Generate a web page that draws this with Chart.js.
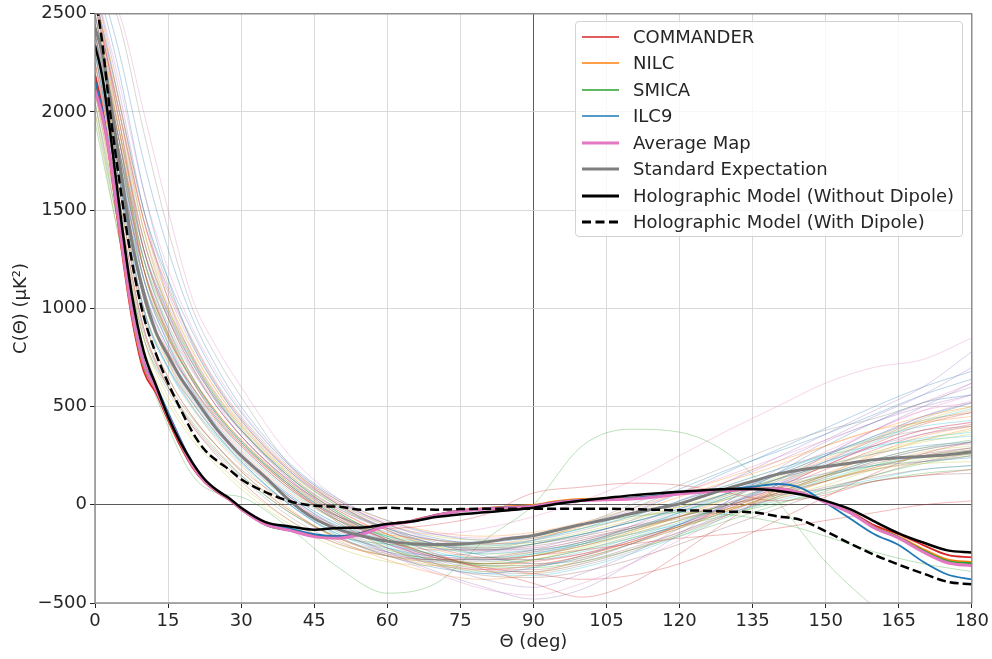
<!DOCTYPE html>
<html>
<head>
<title>Angular correlation</title>
<script src="https://cdn.jsdelivr.net/npm/chart.js"></script>
<style>
  body { margin: 0; background: #fff; }
  #wrap { position: relative; width: 992px; height: 659px; }
  #legend {
    position: absolute; left: 575px; top: 21px; width: 388px; height: 216px;
    box-sizing: border-box; border: 1px solid #d3d3d3; border-radius: 4px;
    background: rgba(255,255,255,0.8);
    font-family: 'DejaVu Sans'; font-size: 18px; color: #262626;
  }
  .row { position: absolute; left: 0; height: 26px; width: 100%; }
  .row svg { position: absolute; left: 5px; top: 0; }
  .row span { position: absolute; left: 57px; top: 0; line-height: 26px; white-space: nowrap; }
</style>
</head>
<body>
<div id="wrap">
  <canvas id="chart" width="992" height="659"></canvas>
  <div id="legend"></div>
</div>

<script type="text/javascript">
// theta grid for the map / model curves (deg)
const theta = [0,1.5,3,5,7.5,10,12.5,15,17.5,20,22.5,25,27.5,30,35,40,45,50,55,60,65,70,75,80,85,90,95,100,105,110,115,120,125,130,135,140,145,150,155,160,165,170,175,180];

const commander = [2190,2020,1760,1380,960,680,570,430,300,190,115,65,25,-25,
  -100,-125,-155,-160,-140,-100,-80,-50,-28,-18,-10,-5,15,25,30,35,42,58,68,75,82,80,58,15,-35,-105,-150,-205,-255,-268];
const nilc = [2140,2000,1770,1400,980,700,585,440,310,195,118,68,28,-22,
  -98,-128,-160,-165,-145,-102,-82,-52,-30,-18,-8,0,20,30,32,36,44,58,68,76,84,84,62,14,-38,-112,-162,-225,-278,-292];
const smica = [2120,1990,1775,1410,990,705,590,445,315,198,120,70,30,-20,
  -102,-132,-160,-166,-146,-104,-84,-54,-31,-20,-12,-6,14,24,28,33,42,56,66,74,82,84,62,14,-38,-114,-165,-232,-285,-298];
const ilc9 = [2160,2010,1790,1430,1010,730,610,470,335,210,125,72,30,-22,
  -92,-120,-150,-160,-142,-100,-82,-52,-30,-20,-12,-5,15,25,30,35,45,60,70,80,92,106,85,10,-70,-150,-205,-290,-355,-380];
const averageMap = [2110,1980,1780,1420,1000,720,590,450,320,200,120,70,30,-20,
  -100,-130,-162,-170,-148,-105,-85,-55,-32,-22,-15,-8,12,22,26,30,40,55,65,72,80,82,60,12,-40,-118,-170,-240,-295,-310];
const standardExp = [2430,2300,2080,1750,1350,1080,880,760,650,560,470,385,315,250,
  140,20,-70,-125,-160,-185,-198,-202,-200,-190,-172,-157,-128,-100,-75,-46,-20,5,45,85,120,155,178,195,212,230,240,246,255,270];
const holoNoDipole = [2340,2180,1920,1520,1080,780,610,450,320,215,130,75,35,-15,
  -88,-110,-127,-118,-116,-98,-85,-62,-48,-38,-28,-15,5,22,35,48,58,66,74,80,80,72,52,20,-22,-85,-145,-192,-232,-243];
const holoDipole = [2600,2350,2020,1650,1250,960,770,620,490,370,280,225,180,130,
  65,18,-5,-10,-25,-15,-20,-25,-22,-20,-20,-20,-20,-20,-20,-22,-25,-28,-30,-35,-38,-58,-78,-135,-197,-255,-305,-350,-392,-405];

// coarser theta grid for the simulated skies
const simTheta = [0,5,10,15,20,25,30,40,50,60,70,80,90,100,110,120,130,140,150,160,170,180];
const sims = [
  [2300,1650,1000,700,520,360,220,0,-150,-220,-260,-240,-200,-150,-90,-20,60,130,200,260,300,320],
  [2550,1900,1200,850,600,420,280,60,-80,-150,-180,-200,-170,-110,-40,40,120,200,300,380,420,450],
  [1950,1350,750,400,150,60,40,-120,-320,-450,-400,-180,0,300,385,370,260,20,-290,-520,-700,-800],
  [2400,1700,1050,780,600,430,300,80,-60,-120,-100,-50,60,90,110,100,60,20,50,120,150,180],
  [2650,2100,1500,1050,750,520,350,120,-50,-180,-300,-380,-420,-350,-250,-120,0,120,250,380,500,620],
  [2200,1550,950,650,450,300,170,-30,-170,-250,-280,-270,-230,-180,-120,-60,0,50,80,120,150,160],
  [2700,2500,2000,1500,1050,800,600,250,30,-100,-150,-120,-60,20,120,250,380,500,620,700,740,850],
  [2750,2450,1900,1400,1000,750,550,200,0,-120,-200,-220,-180,-100,0,100,200,300,380,440,520,600],
  [2100,1450,850,550,350,220,100,-80,-200,-260,-300,-320,-280,-220,-150,-80,-20,40,100,180,230,260],
  [2350,1700,1100,800,580,400,250,50,-100,-180,-220,-250,-230,-200,-150,-100,-40,20,80,130,180,200],
  [2500,1850,1250,900,650,460,320,100,-60,-140,-200,-260,-300,-280,-200,-100,20,160,300,420,520,560],
  [2250,1600,1000,720,500,330,200,-20,-180,-280,-350,-380,-350,-280,-200,-120,-30,60,150,260,350,400],
  [2050,1400,850,600,420,280,150,-40,-160,-200,-210,-190,-150,-100,-60,-40,-50,-90,-160,-240,-300,-340],
  [2600,1950,1300,950,700,500,350,120,-30,-150,-250,-330,-400,-470,-400,-250,-80,80,200,300,380,420],
  [2450,1800,1150,820,580,400,260,40,-120,-240,-340,-420,-480,-430,-300,-150,20,180,320,420,500,560],
  [2150,1500,900,620,440,300,180,10,-110,-190,-230,-230,-200,-160,-110,-60,0,60,120,180,220,250],
  [2300,1700,1100,780,560,380,240,30,-130,-250,-350,-430,-460,-400,-300,-180,-50,100,250,380,480,520],
  [2500,1900,1300,950,700,520,380,150,-20,-120,-180,-200,-180,-130,-60,20,100,180,260,330,380,400],
  [2000,1350,800,520,330,200,80,-100,-220,-290,-310,-300,-260,-200,-130,-60,0,70,130,180,210,220],
  [2400,1750,1150,830,600,430,290,70,-80,-160,-200,-210,-180,-120,-60,20,100,180,250,300,330,350],
  [2200,1600,1000,700,500,350,220,0,-160,-260,-320,-350,-320,-260,-180,-100,0,100,160,200,220,240],
  [2650,2050,1450,1050,780,580,420,180,20,-80,-140,-160,-140,-90,-20,60,140,220,300,380,450,500],
  [2350,1700,1050,730,520,360,230,20,-140,-230,-280,-300,-280,-230,-170,-110,-50,10,60,120,160,180],
  [2100,1500,900,600,400,250,120,-80,-200,-260,-280,-280,-260,-230,-200,-170,-150,-120,-80,-40,0,20],
  [2550,1950,1350,980,720,530,380,140,-20,-130,-200,-230,-220,-160,-80,20,120,220,330,450,560,700],
  [2450,1800,1200,860,630,440,300,80,-80,-170,-220,-230,-210,-170,-120,-70,-20,30,90,140,180,200],
  [2250,1650,1050,740,530,370,240,30,-130,-240,-300,-330,-310,-260,-190,-100,0,100,200,300,380,420],
  [2000,1400,850,580,400,260,140,-60,-190,-260,-290,-290,-260,-210,-150,-80,-10,60,140,220,280,320],
  [2600,2000,1400,1000,740,550,400,160,0,-100,-160,-180,-160,-120,-70,-10,50,120,190,260,320,360],
  [2300,1650,1050,760,550,380,250,40,-110,-200,-250,-270,-250,-200,-130,-40,60,160,260,340,400,430],
  [2700,2200,1600,1150,820,600,430,170,-10,-120,-180,-190,-160,-100,-20,80,180,270,360,460,560,640],
  [2150,1550,950,650,450,300,170,-30,-170,-260,-310,-330,-310,-260,-190,-110,-30,50,120,190,250,280],
  [2400,1800,1200,870,640,460,320,100,-60,-160,-210,-220,-200,-150,-90,-30,30,90,150,200,240,260],
  [2500,1850,1200,870,630,450,310,90,-70,-180,-260,-320,-350,-380,-360,-300,-200,-80,40,160,260,320],
  [2350,1750,1150,820,590,410,270,50,-100,-200,-260,-280,-260,-200,-110,0,120,240,360,480,600,780],
  [2050,1450,880,600,410,270,150,-40,-170,-240,-270,-270,-240,-190,-130,-60,10,80,150,210,260,290],
  [2600,2000,1400,1020,760,560,410,170,10,-90,-150,-170,-150,-100,-30,60,150,240,330,420,520,620],
  [2250,1650,1050,750,540,380,250,40,-120,-220,-280,-300,-280,-230,-160,-80,10,110,220,330,440,520],
  [2450,1850,1250,900,650,470,330,110,-50,-150,-200,-210,-190,-140,-80,-10,60,130,200,270,330,380],
  [2150,1550,980,690,490,340,210,0,-150,-240,-280,-280,-250,-190,-120,-40,40,130,220,290,340,370],
  [2600,2050,1500,1150,880,650,470,200,20,-100,-170,-200,-190,-150,-90,-20,60,150,250,350,450,520],
  [2450,1900,1350,1000,760,560,400,150,-30,-150,-230,-270,-260,-210,-140,-60,30,130,230,330,420,480],
  [2300,1750,1250,950,720,530,380,140,-40,-170,-260,-310,-310,-270,-200,-120,-30,60,150,230,290,330],
  [2550,2000,1450,1100,830,610,440,180,0,-130,-220,-270,-280,-250,-190,-110,-20,80,180,280,360,410],
  [2200,1700,1200,900,680,500,350,120,-60,-190,-280,-330,-340,-300,-230,-140,-40,60,150,230,290,310],
  [2400,1850,1300,980,740,540,380,130,-50,-180,-270,-320,-330,-290,-220,-140,-50,40,120,190,250,290],
  [2650,2150,1600,1200,900,670,480,200,20,-100,-180,-220,-220,-180,-110,-30,60,160,270,380,480,560],
  [2350,1800,1250,920,690,500,350,110,-70,-200,-290,-340,-350,-310,-240,-150,-50,50,140,220,280,320],
  [2500,1950,1400,1050,790,580,410,160,-10,-130,-210,-250,-250,-210,-140,-60,40,140,240,340,430,500],
  [2150,1650,1150,850,630,460,320,100,-80,-210,-300,-350,-360,-320,-250,-160,-60,40,130,200,250,280],
  [2750,2300,1750,1300,950,700,500,210,30,-80,-150,-180,-170,-120,-40,60,170,280,390,500,600,680],
  [2300,1700,1150,850,640,470,330,110,-60,-180,-260,-300,-300,-260,-190,-110,-20,70,160,250,330,390],
  [2450,1900,1350,1000,750,550,390,140,-40,-170,-260,-310,-320,-290,-230,-160,-80,0,80,150,210,250],
  [2250,1700,1200,880,650,470,330,100,-80,-200,-270,-300,-290,-250,-180,-100,-10,90,200,310,410,470],
  [2550,2000,1450,1080,810,600,430,170,0,-120,-200,-240,-240,-200,-130,-50,40,130,220,300,360,400],
  [2100,1600,1100,800,600,440,310,90,-90,-220,-310,-360,-370,-340,-280,-200,-110,-20,70,150,220,260],
  [2400,1850,1300,960,720,530,370,130,-50,-180,-270,-310,-310,-270,-200,-110,-10,100,220,340,450,530],
  [2600,2050,1500,1120,840,620,450,190,10,-110,-190,-230,-230,-190,-120,-40,50,150,250,350,430,470],
  [2200,1650,1150,850,640,470,320,90,-90,-220,-300,-340,-340,-300,-230,-150,-60,30,120,200,270,300],
  [2350,1800,1300,970,730,540,380,140,-40,-160,-240,-280,-280,-240,-170,-90,0,100,210,320,420,490]
];

const yTicks = [-500, 0, 500, 1000, 1500, 2000, 2500];
const xTicks = [0, 15, 30, 45, 60, 75, 90, 105, 120, 135, 150, 165, 180];

const tab10 = ['#1f77b4','#ff7f0e','#2ca02c','#d62728','#9467bd','#8c564b','#e377c2','#7f7f7f','#bcbd22','#17becf'];

function pts(xs, ys) { return ys.map((v, i) => ({x: xs[i], y: v})); }

const mainLines = [
  {label: 'Holographic Model (With Dipole)', data: holoDipole, color: '#000000', width: 2.5, dash: [9, 4]},
  {label: 'Holographic Model (Without Dipole)', data: holoNoDipole, color: '#000000', width: 2.5},
  {label: 'Standard Expectation', data: standardExp, color: '#7f7f7f', width: 3},
  {label: 'Average Map', data: averageMap, color: '#e377c2', width: 3},
  {label: 'ILC9', data: ilc9, color: '#1f77b4', width: 1.8},
  {label: 'SMICA', data: smica, color: '#2ca02c', width: 1.8},
  {label: 'NILC', data: nilc, color: '#ff7f0e', width: 1.8},
  {label: 'COMMANDER', data: commander, color: '#d62728', width: 1.8}
];

const datasets = mainLines.map(m => ({
  label: m.label,
  data: pts(theta, m.data),
  borderColor: m.color,
  borderWidth: m.width,
  borderDash: m.dash || [],
  pointRadius: 0,
  cubicInterpolationMode: 'monotone'
}));
sims.forEach((s, i) => datasets.push({
  label: 'sim' + i,
  data: pts(simTheta, s),
  borderColor: tab10[i % 10] + '66',
  borderWidth: 0.8,
  pointRadius: 0,
  cubicInterpolationMode: 'monotone'
}));

const frame = {
  id: 'frame',
  afterDatasetsDraw(chart) {
    const {ctx, chartArea: a} = chart;
    ctx.save();
    ctx.strokeStyle = '#808080';
    ctx.lineWidth = 1.3;
    ctx.strokeRect(a.left, a.top, a.right - a.left, a.bottom - a.top);
    ctx.restore();
  }
};

const tickFont = {family: 'DejaVu Sans', size: 18};

new Chart(document.getElementById('chart'), {
  type: 'line',
  data: {datasets: datasets},
  options: {
    responsive: false,
    devicePixelRatio: 1,
    animation: false,
    layout: {padding: {top: 10, right: 20, left: 0, bottom: 0}},
    plugins: {legend: {display: false}, tooltip: {enabled: false}},
    scales: {
      x: {
        type: 'linear', min: 0, max: 180,
        afterFit: s => { s.height = 56; },
        afterBuildTicks: s => { s.ticks = xTicks.map(v => ({value: v})); },
        ticks: {color: '#262626', font: tickFont, padding: 3, maxRotation: 0},
        grid: {
          color: c => (c.tick && c.tick.value === 90) ? '#5a5a5a' : '#d9d9d9',
          lineWidth: 1, tickLength: 5, tickColor: '#262626'
        },
        border: {display: false},
        title: {display: true, text: 'Θ (deg)', color: '#262626', font: tickFont, padding: {top: 0, bottom: 6}}
      },
      y: {
        type: 'linear', min: -500, max: 2500,
        afterFit: s => { s.width = 95; },
        afterBuildTicks: s => { s.ticks = yTicks.map(v => ({value: v})); },
        ticks: {color: '#262626', font: tickFont, padding: 3, callback: v => String(v).replace('-', '\u2212')},
        grid: {
          color: c => (c.tick && c.tick.value === 0) ? '#5a5a5a' : '#d9d9d9',
          lineWidth: 1, tickLength: 5, tickColor: '#262626'
        },
        border: {display: false},
        title: {display: true, text: 'C(Θ) (μK²)', color: '#262626', font: tickFont, padding: {top: 11, bottom: 0}}
      }
    }
  },
  plugins: [frame]
});

// legend in the same order as the reference
const legendOrder = ['COMMANDER', 'NILC', 'SMICA', 'ILC9', 'Average Map', 'Standard Expectation',
  'Holographic Model (Without Dipole)', 'Holographic Model (With Dipole)'];
const legendWidth = {'COMMANDER': 1.5, 'NILC': 1.5, 'SMICA': 1.5, 'ILC9': 1.5};
const legend = document.getElementById('legend');
legendOrder.forEach((name, i) => {
  const m = mainLines.find(d => d.label === name);
  const w = legendWidth[name] || 3;
  const dash = m.dash ? ' stroke-dasharray="9 4.5"' : '';
  const row = document.createElement('div');
  row.className = 'row';
  row.style.top = (1.5 + 26.5 * i) + 'px';
  row.innerHTML = '<svg width="38" height="26"><line x1="1" y1="13" x2="38" y2="13" stroke="' + m.color +
    '" stroke-width="' + w + '"' + dash + '/></svg><span>' + name + '</span>';
  legend.appendChild(row);
});
</script>
</body>
</html>
